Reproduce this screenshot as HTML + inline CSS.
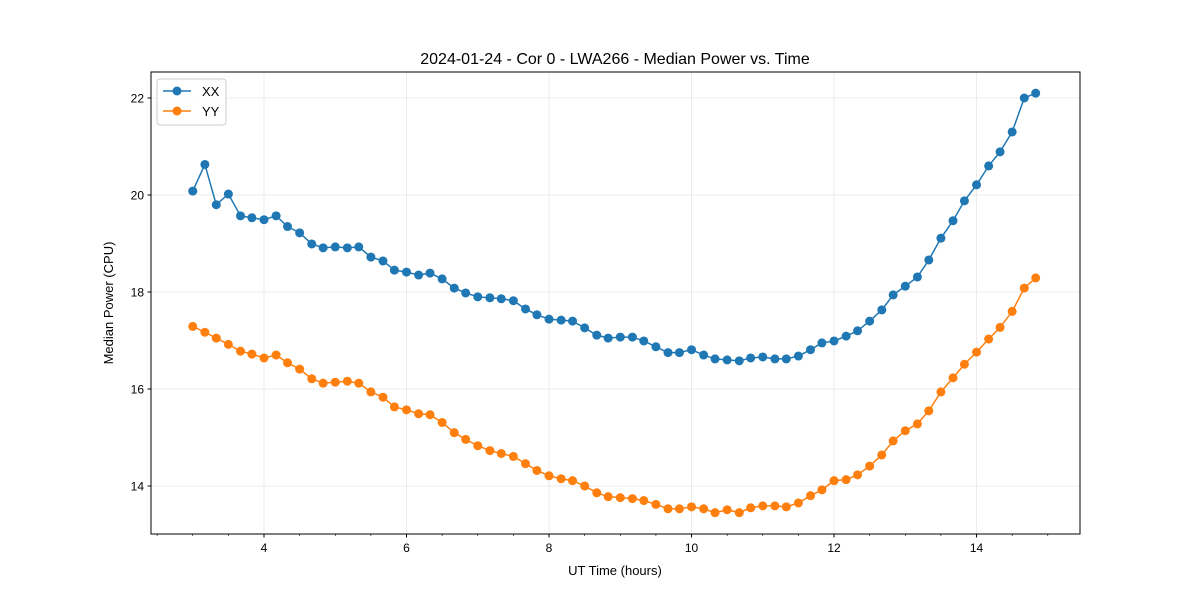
<!DOCTYPE html>
<html><head><meta charset="utf-8"><style>
body{margin:0;background:#fff;}
svg{display:block;font-family:"Liberation Sans","DejaVu Sans",sans-serif;}
</style></head><body>
<svg id="chart" width="1200" height="600" viewBox="0 0 1200 600">
<rect width="1200" height="600" fill="#fff"/>
<g id="grid"></g>
<g id="series"></g>
<rect x="151" y="72" width="929" height="462" fill="none" stroke="#000" stroke-width="1"/>
<g id="axes"></g>
<text x="615" y="64" text-anchor="middle" font-size="16">2024-01-24 - Cor 0 - LWA266 - Median Power vs. Time</text>
<text x="615" y="575" text-anchor="middle" font-size="13">UT Time (hours)</text>
<text transform="translate(113,303) rotate(-90)" text-anchor="middle" font-size="13">Median Power (CPU)</text>
<g>
<rect x="157" y="79" width="69" height="46" rx="3" fill="#fff" fill-opacity="0.8" stroke="#ccc"/>
<g><line x1="163" y1="91" x2="191" y2="91" stroke="#1f77b4" stroke-width="1.5"/><circle cx="177" cy="91" r="4.5" fill="#1f77b4"/><text x="202" y="96" font-size="13">XX</text></g>
<g><line x1="163" y1="111" x2="191" y2="111" stroke="#ff7f0e" stroke-width="1.5"/><circle cx="177" cy="111" r="4.5" fill="#ff7f0e"/><text x="202" y="116" font-size="13">YY</text></g>
</g>
</svg>
<script>
const times=[3.00,3.17,3.33,3.50,3.67,3.83,4.00,4.17,4.33,4.50,4.67,4.83,5.00,5.17,5.33,5.50,5.67,5.83,6.00,6.17,6.33,6.50,6.67,6.83,7.00,7.17,7.33,7.50,7.67,7.83,8.00,8.17,8.33,8.50,8.67,8.83,9.00,9.17,9.33,9.50,9.67,9.83,10.00,10.17,10.33,10.50,10.67,10.83,11.00,11.17,11.33,11.50,11.67,11.83,12.00,12.17,12.33,12.50,12.67,12.83,13.00,13.17,13.33,13.50,13.67,13.83,14.00,14.17,14.33,14.50,14.67,14.83];
const xxValues=[20.08,20.63,19.80,20.02,19.57,19.53,19.49,19.57,19.35,19.22,18.99,18.91,18.93,18.91,18.93,18.72,18.64,18.45,18.41,18.35,18.39,18.27,18.08,17.98,17.90,17.88,17.86,17.82,17.65,17.53,17.44,17.42,17.40,17.26,17.11,17.05,17.07,17.07,16.99,16.87,16.75,16.75,16.81,16.70,16.62,16.60,16.58,16.64,16.66,16.62,16.62,16.68,16.81,16.95,16.99,17.09,17.20,17.40,17.63,17.94,18.12,18.31,18.66,19.11,19.47,19.88,20.21,20.60,20.89,21.30,22.00,22.10];
const yyValues=[17.29,17.17,17.05,16.92,16.78,16.72,16.64,16.70,16.54,16.41,16.21,16.12,16.14,16.16,16.12,15.94,15.83,15.63,15.57,15.49,15.47,15.31,15.10,14.96,14.83,14.73,14.67,14.61,14.46,14.32,14.21,14.15,14.11,14.00,13.86,13.78,13.76,13.74,13.70,13.62,13.53,13.53,13.57,13.53,13.45,13.51,13.45,13.55,13.59,13.59,13.57,13.65,13.80,13.92,14.11,14.13,14.23,14.41,14.64,14.93,15.14,15.28,15.55,15.94,16.23,16.51,16.76,17.03,17.27,17.60,18.08,18.29];
const xTicks=[4,6,8,10,12,14];
const yTicks=[14,16,18,20,22];
const NS="http://www.w3.org/2000/svg";
const X0=2.414,X1=15.452,Y0=13.01,Y1=22.536;
const L=151,R=1080,T=72,B=534;
function sx(v){return L+(v-X0)/(X1-X0)*(R-L);}
function sy(v){return B-(v-Y0)/(Y1-Y0)*(B-T);}
function mk(tag,attrs,parent){const e=document.createElementNS(NS,tag);for(const k in attrs)e.setAttribute(k,attrs[k]);parent.appendChild(e);return e;}
const grid=document.getElementById('grid'),axes=document.getElementById('axes'),series=document.getElementById('series');
xTicks.forEach(t=>{const x=sx(t);
 const g=mk('line',{x1:x,x2:x,y1:T,y2:B,stroke:'#b0b0b0','stroke-opacity':0.3,'stroke-width':0.8},grid);
 
 
 const tk=mk('line',{x1:x,x2:x,y1:B,y2:B+3.5,stroke:'#000'},axes);
 
 
 const lb=mk('text',{x:x,y:B+18,'text-anchor':'middle','font-size':12},axes);lb.textContent=t;
 
 
});
for(let m=2.5;m<15.5;m+=0.5){if(Number.isInteger(m/2))continue;const x=sx(m);
 const tk=mk('line',{x1:x,x2:x,y1:B,y2:B+2,stroke:'#000','stroke-width':0.6},axes);
 
 
}
yTicks.forEach(t=>{const y=sy(t);
 const g=mk('line',{x1:L,x2:R,y1:y,y2:y,stroke:'#b0b0b0','stroke-opacity':0.3,'stroke-width':0.8},grid);
 
 
 const tk=mk('line',{x1:L-3.5,x2:L,y1:y,y2:y,stroke:'#000'},axes);
 
 
 const lb=mk('text',{x:L-7,y:y+4.5,'text-anchor':'end','font-size':12},axes);lb.textContent=t;
 
 
});
function draw(vals,color,name){
 const pts=times.map((t,i)=>sx(t)+','+sy(vals[i])).join(' ');
 const pl=mk('polyline',{points:pts,fill:'none',stroke:color,'stroke-width':1.5},series);
 
 
 times.forEach((t,i)=>{const c=mk('circle',{cx:sx(t),cy:sy(vals[i]),r:4.5,fill:color},series);
  
  
 });
}
draw(xxValues,'#1f77b4','xx');
draw(yyValues,'#ff7f0e','yy');
</script>
</body></html>
